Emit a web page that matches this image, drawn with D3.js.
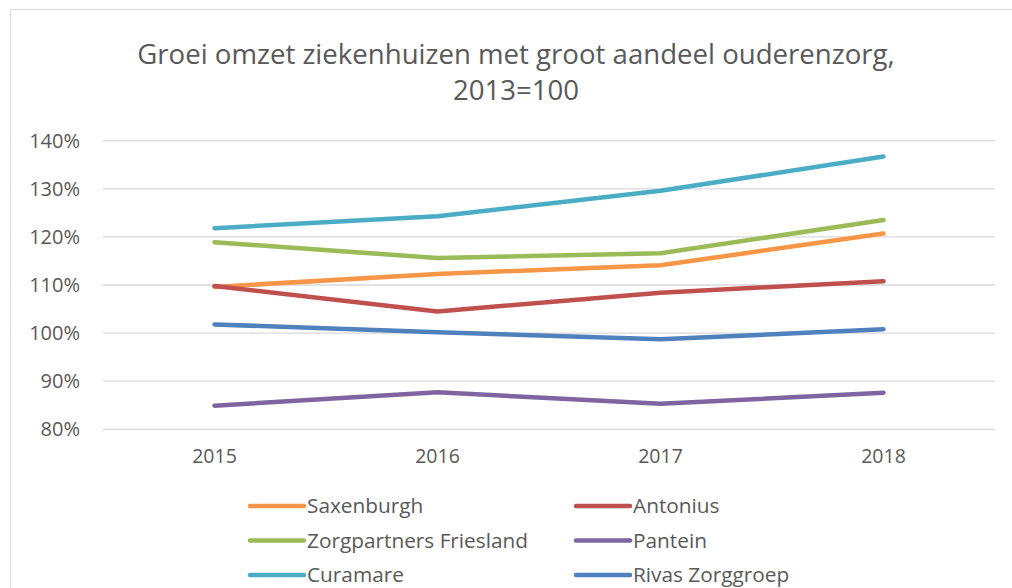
<!DOCTYPE html>
<meta charset="utf-8">
<script src="https://d3js.org/d3.v7.min.js"></script>
<style>
  body { margin: 0; background: #fff; }
  text { font-family: "Open Sans", sans-serif; fill: #595959; }
</style>
<div id="chart"></div>
<script>
// data (index, 2013 = 100)
const years = ["2015", "2016", "2017", "2018"];
const series = ["Saxenburgh", "Antonius", "Zorgpartners Friesland", "Pantein", "Curamare", "Rivas Zorggroep"];
const saxenburgh = [109.6, 112.3, 114.1, 120.7];
const antonius = [109.8, 104.5, 108.4, 110.8];
const zorgpartners = [118.9, 115.6, 116.6, 123.5];
const pantein = [84.9, 87.7, 85.3, 87.6];
const curamare = [121.8, 124.3, 129.6, 136.7];
const rivas = [101.8, 100.2, 98.7, 100.8];
const yTicks = [80, 90, 100, 110, 120, 130, 140];
const colors = ["#F79646", "#C0504D", "#9BBB59", "#8064A2", "#4BACC6", "#4F81BD"];

const values = [saxenburgh, antonius, zorgpartners, pantein, curamare, rivas];

const W = 1012, H = 588;
const svg = d3.select("#chart").append("svg")
  .attr("width", W).attr("height", H);

// chart frame
svg.append("rect")
  .attr("x", 10.5).attr("y", 9.5)
  .attr("width", 1010).attr("height", 600)
  .attr("fill", "#fff").attr("stroke", "#d9d9d9");

// title
svg.append("text")
  .attr("x", 516).attr("y", 64)
  .attr("text-anchor", "middle")
  .style("font-size", "27.6px")
  .text("Groei omzet ziekenhuizen met groot aandeel ouderenzorg,");
svg.append("text")
  .attr("x", 516).attr("y", 100)
  .attr("text-anchor", "middle")
  .style("font-size", "27.6px")
  .text("2013=100");

const x = d3.scaleBand().domain(years).range([103, 995]);
const y = d3.scaleLinear().domain([80, 140]).range([429.3, 140.7]);

// gridlines
svg.append("g").selectAll("line")
  .data(yTicks)
  .join("line")
    .attr("x1", 103).attr("x2", 995)
    .attr("y1", d => y(d)).attr("y2", d => y(d))
    .attr("stroke", "#d9d9d9").attr("stroke-width", 1.3);

// y axis labels
const yAxis = svg.append("g")
  .attr("transform", "translate(80,0)")
  .call(d3.axisLeft(y).tickValues(yTicks).tickFormat(d => d + "%").tickSize(0).tickPadding(0));
yAxis.select(".domain").remove();
yAxis.selectAll("text").style("font-size", "20px").attr("fill", "#595959");

// x axis labels
const xAxis = svg.append("g")
  .attr("transform", "translate(0,449)")
  .call(d3.axisBottom(x).tickSize(0).tickPadding(0));
xAxis.select(".domain").remove();
xAxis.selectAll("text").style("font-size", "19.5px").attr("fill", "#595959");

// lines
const line = d3.line()
  .x((d, i) => x(years[i]) + x.bandwidth() / 2)
  .y(d => y(d));

svg.append("g").selectAll("path")
  .data(values)
  .join("path")
    .attr("d", line)
    .attr("fill", "none")
    .attr("stroke", (d, i) => colors[i])
    .attr("stroke-width", 4.5)
    .attr("stroke-linecap", "round")
    .attr("stroke-linejoin", "round");

// legend, two columns
const legend = svg.append("g").selectAll("g")
  .data(series)
  .join("g")
    .attr("transform", (d, i) => `translate(${i % 2 === 0 ? 250 : 576},${506 + Math.floor(i / 2) * 34.5})`);
legend.append("line")
  .attr("x1", 0).attr("x2", 54)
  .attr("stroke", (d, i) => colors[i])
  .attr("stroke-width", 4.5)
  .attr("stroke-linecap", "round");
legend.append("text")
  .attr("x", 57).attr("dy", "0.35em")
  .style("font-size", "20.8px")
  .text(d => d);
</script>
